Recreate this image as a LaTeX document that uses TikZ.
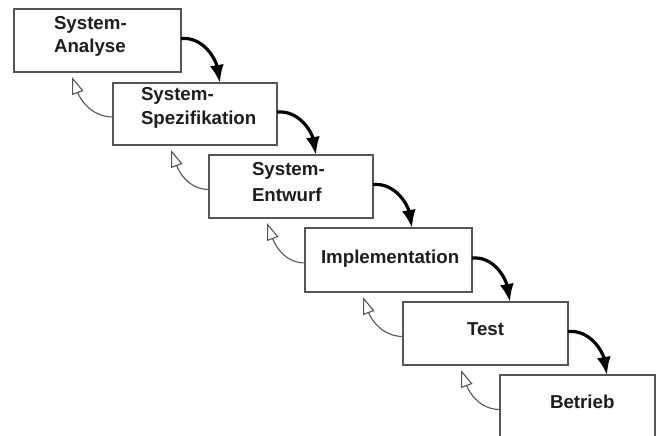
\documentclass[tikz,border=0pt]{standalone}
\usepackage{fontspec}
\setmainfont{Liberation Sans}
\usetikzlibrary{arrows.meta}
\definecolor{boxline}{HTML}{555555}
\definecolor{txt}{HTML}{1E1E1E}
\definecolor{backline}{HTML}{555555}
\tikzset{
  phase/.style={draw=boxline, line width=1.7pt, fill=white, rectangle, anchor=north west, inner sep=0pt, outer sep=0pt},
  lbl/.style={anchor=base west, inner sep=0pt, outer sep=0pt, text=txt, font=\fontsize{18.7}{24}\selectfont\bfseries},
  fwd/.style={line width=3.2pt, black, -{Latex[length=18pt,width=14pt]}},
  bck/.style={line width=1.1pt, backline, -{Triangle[length=17pt,width=12pt,fill=white,line width=1.1pt]}}
}
\begin{document}
\begin{tikzpicture}[x=1pt,y=1pt]
\useasboundingbox (0,0) rectangle (656,-436);
\clip (0,0) rectangle (656,-436);
\fill[white] (0,0) rectangle (656,-436);

\node[phase, minimum width=167pt, minimum height=63pt] (b1) at (14,-9) {};
\node[phase, minimum width=164pt, minimum height=62pt] (b2) at (113,-83) {};
\node[phase, minimum width=164pt, minimum height=63pt] (b3) at (209,-155) {};
\node[phase, minimum width=167pt, minimum height=64pt] (b4) at (305,-228) {};
\node[phase, minimum width=165pt, minimum height=63pt] (b5) at (403,-302) {};
\node[phase, minimum width=155pt, minimum height=63pt] (b6) at (500,-375) {};

\node[lbl] (t1a) at (54,-30) {System-};
\node[lbl] (t1b) at (54,-53) {Analyse};
\node[lbl] (t2a) at (141,-100) {System-};
\node[lbl] (t2b) at (141,-124) {Spezifikation};
\node[lbl] (t3a) at (252,-175) {System-};
\node[lbl] (t3b) at (252,-201) {Entwurf};
\node[lbl] (t4) at (321,-263) {Implementation};
\node[lbl] (t5) at (467,-335) {Test};
\node[lbl] (t6) at (550,-408) {Betrieb};

\foreach \a/\b in {b1/b2,b2/b3,b3/b4,b4/b5,b5/b6}{
  \draw[fwd] ([yshift=2pt]\a.east) to[out=5, in=100] ([xshift=107pt]\b.north west);
  \draw[bck] ([yshift=-3pt]\b.west) to[out=180, in=-70] ([xshift=58pt,yshift=-5pt]\a.south west);
}
\end{tikzpicture}
\end{document}
